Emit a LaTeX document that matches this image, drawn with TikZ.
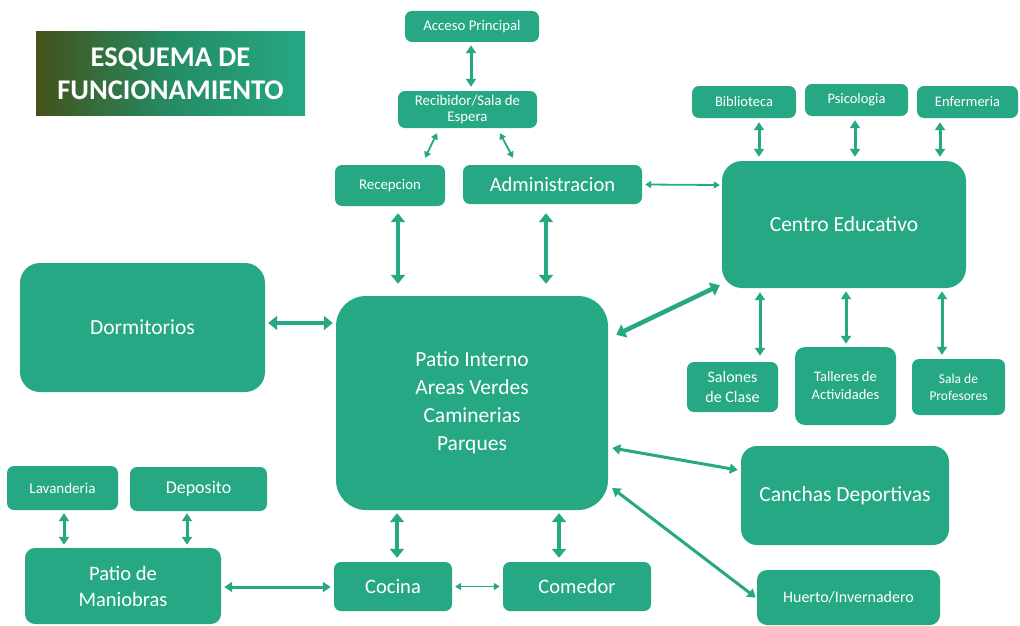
\documentclass[tikz,border=0pt]{standalone}
\usepackage{fontspec}
\setmainfont{Carlito}
\usetikzlibrary{arrows.meta,calc}
\definecolor{tg}{RGB}{38,168,132}
\definecolor{olv}{RGB}{68,82,26}
\definecolor{tgmid}{RGB}{36,140,100}
\begin{document}
\begin{tikzpicture}[x=1pt,y=-1pt,
  box/.style={fill=tg, rounded corners=7pt, text=white, align=center, inner sep=0pt},
  bigbox/.style={box, rounded corners=20pt},
  fs/.style={font=\fontsize{#1}{#1}\selectfont},
  a1/.style={<->, draw=tg, line width=1.8pt, >={Triangle[length=6pt,width=7pt]}},
  a2/.style={<->, draw=tg, line width=3pt, >={Triangle[length=8pt,width=10pt]}},
  a3/.style={<->, draw=tg, line width=4.5pt, >={Triangle[length=9pt,width=14pt]}}]
\useasboundingbox[fill=white] (0,0) rectangle (1020,626);
% title
\node[inner sep=0pt, minimum width=269pt, minimum height=83pt, left color=olv, right color=tg, middle color=tgmid, text=white, align=center, font=\fontsize{28.5}{33}\selectfont\bfseries] (title) at (170.5,73.5) {ESQUEMA DE\\FUNCIONAMIENTO};
% nodes
\node[box, fs=14.8, minimum width=134pt, minimum height=31pt] (acc) at (472,26.5) {Acceso Principal};
\node[box, minimum width=139pt, minimum height=37pt, font=\fontsize{14.8}{16}\selectfont] (reb) at (467.5,109.5) {Recibidor/Sala de\\Espera};
\node[box, fs=14.8, minimum width=110pt, minimum height=41pt] (rec) at (390,185.5) {Recepcion};
\node[box, fs=20.5, minimum width=179pt, minimum height=39pt] (adm) at (552.5,184.5) {Administracion};
\node[box, fs=14.5, minimum width=104pt, minimum height=32pt] (bib) at (744,102) {Biblioteca};
\node[box, fs=14.5, minimum width=103pt, minimum height=32pt] (psi) at (856.5,100) {Psicologia};
\node[box, fs=14.5, minimum width=101pt, minimum height=32pt] (enf) at (967.5,102) {Enfermeria};
\node[bigbox, fs=21.5, minimum width=244pt, minimum height=127pt] (cen) at (844,224.5) {Centro Educativo};
\node[box, minimum width=91pt, minimum height=50pt, font=\fontsize{16}{20}\selectfont] (sal) at (732.5,387) {Salones\\de Clase};
\node[box, rounded corners=10pt, minimum width=101pt, minimum height=78pt, font=\fontsize{14.5}{18}\selectfont] (tal) at (845.5,386) {Talleres de\\Actividades};
\node[box, minimum width=93pt, minimum height=56pt, font=\fontsize{13.5}{17}\selectfont] (pro) at (958.5,387) {Sala de\\Profesores};
\node[bigbox, fs=21.5, minimum width=245pt, minimum height=129pt] (dor) at (142.5,327.5) {Dormitorios};
\node[bigbox, rounded corners=30pt, minimum width=272pt, minimum height=214pt, font=\fontsize{21.5}{28}\selectfont] (pat) at (472,403) {Patio Interno\\Areas Verdes\\Caminerias\\Parques};
\node[bigbox, rounded corners=16pt, fs=21.5, minimum width=208pt, minimum height=99pt] (can) at (845,495.5) {Canchas Deportivas};
\node[box, rounded corners=10pt, fs=16, minimum width=183pt, minimum height=55pt] (hue) at (848.5,597.5) {Huerto/Invernadero};
\node[box, fs=15, minimum width=111pt, minimum height=44pt] (lav) at (62.5,488) {Lavanderia};
\node[box, fs=18, minimum width=137pt, minimum height=44pt] (dep) at (198.5,489) {Deposito};
\node[box, rounded corners=10pt, minimum width=196pt, minimum height=76pt, font=\fontsize{20.5}{26}\selectfont] (man) at (123,586) {Patio de\\Maniobras};
\node[box, fs=20.5, minimum width=118pt, minimum height=49pt] (coc) at (393,586.5) {Cocina};
\node[box, fs=20.5, minimum width=148pt, minimum height=49pt] (com) at (577,586.5) {Comedor};
% connectors
\draw[a2] ($(acc.south)+(-1,3)$) -- ($(reb.north)+(3.5,-4)$);
\draw[a1] ($(reb.south)+(-30.5,5)$) -- ($(rec.north)+(35,-7)$);
\draw[a1] ($(reb.south)+(32.5,5)$) -- ($(adm.north)+(-39.5,-7)$);
\draw[a3] ($(rec.south)+(8,7)$) -- ($(pat.north)+(-74,-12)$);
\draw[a3] ($(adm.south)+(-6.5,9)$) -- ($(pat.north)+(74,-12)$);
\draw[a1] ($(adm.east)+(3,0)$) -- ($(cen.west)+(-2,-39.5)$);
\draw[a2] ($(bib.south)+(15,4)$) -- ($(cen.north)+(-85,-4)$);
\draw[a2] ($(psi.south)+(-1.5,4)$) -- ($(cen.north)+(11,-4)$);
\draw[a2] ($(enf.south)+(-27.5,4)$) -- ($(cen.north)+(96,-4)$);
\draw[a2] ($(cen.south)+(-84,4)$) -- ($(sal.north)+(27.5,-6)$);
\draw[a2] ($(cen.south)+(2,3)$) -- ($(tal.north)+(0.5,-3)$);
\draw[a2] ($(cen.south)+(98,3)$) -- ($(pro.north)+(-16.5,-4)$);
\draw[a3] ($(cen.south west)+(-2,-3)$) -- ($(pat.north east)+(8,39)$);
\draw[a3] ($(dor.east)+(3,-4.5)$) -- ($(pat.west)+(-3,-80)$);
\draw[a2] ($(pat.east)+(4,45)$) -- ($(can.west)+(-3,-25.5)$);
\draw[a2] ($(pat.east)+(4,85)$) -- ($(hue.west)+(-1,0)$);
\draw[a3] ($(pat.south)+(-75,3)$) -- ($(coc.north)+(4,-4)$);
\draw[a3] ($(pat.south)+(87,3)$) -- ($(com.north)+(-18,-4)$);
\draw[a1] ($(coc.east)+(3,0)$) -- ($(com.west)+(-3,0)$);
\draw[a2] ($(man.east)+(3,1)$) -- ($(coc.west)+(-3,0.5)$);
\draw[a2] ($(lav.south)+(1.5,3)$) -- ($(man.north)+(-59,-3)$);
\draw[a2] ($(dep.south)+(-11.5,2)$) -- ($(man.north)+(64,-3)$);
\end{tikzpicture}
\end{document}
